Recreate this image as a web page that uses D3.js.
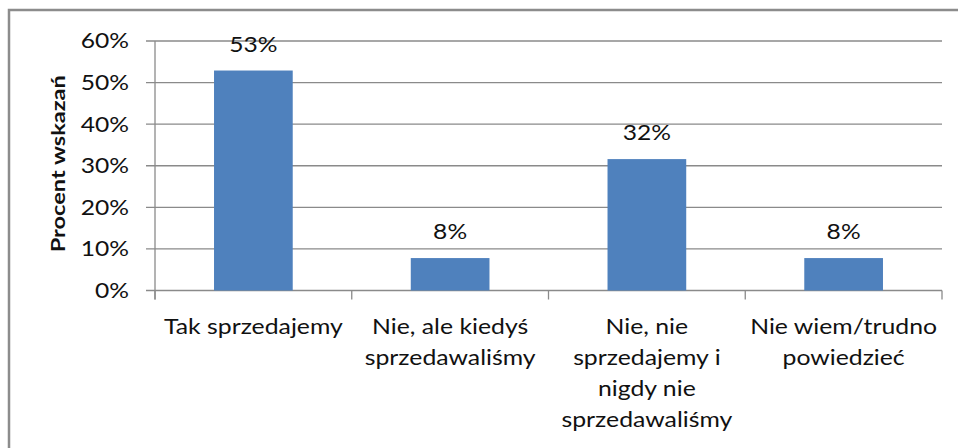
<!DOCTYPE html>
<html>
<head>
<meta charset="utf-8">
<script src="https://cdn.jsdelivr.net/npm/d3@7"></script>
<style>
  body { margin: 0; background: #fff; }
  svg text { font-family: Lato, "Open Sans", sans-serif; fill: #111; }
</style>
</head>
<body>
<div id="chart"></div>
<script>
// Data
const categories = [
    ["Tak sprzedajemy"],
    ["Nie, ale kiedyś", "sprzedawaliśmy"],
    ["Nie, nie", "sprzedajemy i", "nigdy nie", "sprzedawaliśmy"],
    ["Nie wiem/trudno", "powiedzieć"]
];
const values = [52.9, 7.8, 31.6, 7.8];
const valueLabels = ["53%", "8%", "32%", "8%"];
const yTicks = [0, 10, 20, 30, 40, 50, 60];

// the original font is wider than Lato, so stretch text sideways
function widen(sel, k) {
    sel.each(function () {
        const w = this.getComputedTextLength();
        d3.select(this)
            .attr("textLength", w * k)
            .attr("lengthAdjust", "spacingAndGlyphs");
    });
}

function drawChart() {
    const width = 958;
    const height = 448;
    const plot = { left: 155, right: 942, top: 41, bottom: 290.5 };

    const svg = d3.select("#chart")
        .append("svg")
        .attr("width", width)
        .attr("height", height);

    // outer frame
    svg.append("rect")
        .attr("x", 9)
        .attr("y", 10)
        .attr("width", 1000)
        .attr("height", 500)
        .attr("fill", "none")
        .attr("stroke", "#8c8c8c")
        .attr("stroke-width", 2.5);

    const xScale = d3.scaleBand()
        .domain(d3.range(categories.length))
        .range([plot.left, plot.right])
        .paddingInner(0.6)
        .paddingOuter(0.3);

    const yScale = d3.scaleLinear()
        .domain([0, 60])
        .range([plot.bottom, plot.top]);

    // gridlines + y ticks
    svg.append("g")
        .selectAll("line")
        .data(yTicks)
        .enter()
        .append("line")
        .attr("x1", plot.left - 9)
        .attr("x2", plot.right)
        .attr("y1", d => yScale(d))
        .attr("y2", d => yScale(d))
        .attr("stroke", "#8a8a8a")
        .attr("stroke-width", 1.3);

    svg.append("g")
        .selectAll("text")
        .data(yTicks)
        .enter()
        .append("text")
        .attr("x", 129)
        .attr("y", d => yScale(d))
        .attr("dy", "0.36em")
        .attr("text-anchor", "end")
        .style("font-size", "20.5px")
        .text(d => d + "%")
        .call(widen, 1.2);

    // y axis line
    svg.append("line")
        .attr("x1", plot.left)
        .attr("x2", plot.left)
        .attr("y1", plot.top)
        .attr("y2", plot.bottom + 9)
        .attr("stroke", "#8a8a8a")
        .attr("stroke-width", 1.3);

    // category ticks
    const step = (plot.right - plot.left) / categories.length;
    svg.append("g")
        .selectAll("line")
        .data(d3.range(categories.length + 1))
        .enter()
        .append("line")
        .attr("x1", d => plot.left + d * step)
        .attr("x2", d => plot.left + d * step)
        .attr("y1", plot.bottom)
        .attr("y2", plot.bottom + 9)
        .attr("stroke", "#8a8a8a")
        .attr("stroke-width", 1.3);

    // bars
    svg.append("g")
        .selectAll("rect")
        .data(values)
        .enter()
        .append("rect")
        .attr("x", (d, i) => xScale(i))
        .attr("y", d => yScale(d))
        .attr("width", xScale.bandwidth())
        .attr("height", d => yScale(0) - yScale(d))
        .attr("fill", "#4f81bd");

    // value labels
    svg.append("g")
        .selectAll("text")
        .data(values)
        .enter()
        .append("text")
        .attr("x", (d, i) => xScale(i) + xScale.bandwidth() / 2)
        .attr("y", d => yScale(d) - 19)
        .attr("text-anchor", "middle")
        .style("font-size", "20.5px")
        .text((d, i) => valueLabels[i])
        .call(widen, 1.2);

    // category labels, one text per line
    const lines = [];
    categories.forEach((cat, i) => cat.forEach((line, j) => lines.push({ line, i, j })));

    svg.append("g")
        .selectAll("text")
        .data(lines)
        .enter()
        .append("text")
        .attr("x", d => xScale(d.i) + xScale.bandwidth() / 2)
        .attr("y", d => 334 + d.j * 31)
        .attr("text-anchor", "middle")
        .style("font-size", "21px")
        .text(d => d.line)
        .call(widen, 1.18);

    // y axis title
    svg.append("text")
        .attr("transform", `translate(65,${(plot.top + plot.bottom) / 2 - 2}) rotate(-90)`)
        .attr("text-anchor", "middle")
        .style("font-size", "19.5px")
        .style("font-weight", "bold")
        .text("Procent wskazań")
        .call(widen, 1.21);
}

document.addEventListener("DOMContentLoaded", drawChart);
</script>
</body>
</html>
